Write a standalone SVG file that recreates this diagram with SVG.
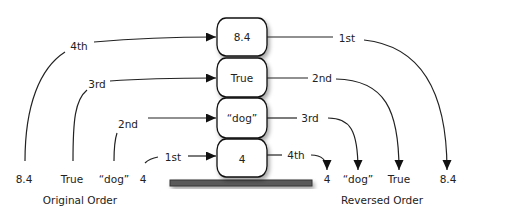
<svg xmlns="http://www.w3.org/2000/svg" width="510" height="221" viewBox="0 0 510 221">
<defs>
<style>
text{font-family:"DejaVu Sans","Liberation Sans",sans-serif;font-size:10.5px;fill:#222;text-anchor:middle}
.c{fill:none;stroke:#222;stroke-width:1.2}
.box{fill:#fff;stroke:#111;stroke-width:1.3}
</style>
<marker id="ah" markerUnits="userSpaceOnUse" markerWidth="12" markerHeight="10" refX="10" refY="4.5" orient="auto">
<path d="M0,0 L10,4.5 L0,9 Z" fill="#111"/>
</marker>
<filter id="sh" x="-20%" y="-20%" width="150%" height="160%">
<feDropShadow dx="2" dy="3" stdDeviation="2" flood-color="#000" flood-opacity="0.35"/>
</filter>
</defs>
<rect width="510" height="221" fill="#fff"/>
<g id="shelf"><rect x="170" y="180" width="142" height="6" fill="#5a5a5a" stroke="#333" stroke-width="1" filter="url(#sh)"/></g>
<g id="box84"><rect class="box" x="217" y="18" width="50" height="38" rx="9" ry="11" filter="url(#sh)"/><text x="242" y="41">8.4</text></g>
<g id="boxTrue"><rect class="box" x="217" y="58" width="50" height="39" rx="9" ry="11" filter="url(#sh)"/><text x="242" y="82">True</text></g>
<g id="boxDog"><rect class="box" x="217" y="98" width="50" height="40" rx="9" ry="11" filter="url(#sh)"/><text x="242" y="122">“dog”</text></g>
<g id="box4"><rect class="box" x="217" y="139" width="50" height="38" rx="9" ry="11" filter="url(#sh)"/><text x="242" y="163">4</text></g>
<g id="left-labels">
<text x="24" y="183">8.4</text>
<text x="72" y="183">True</text>
<text x="114" y="183">“dog”</text>
<text x="143" y="183">4</text>
<text x="80" y="204">Original Order</text>
</g>
<g id="right-labels">
<text x="327" y="183">4</text>
<text x="358" y="183">“dog”</text>
<text x="399" y="183">True</text>
<text x="448" y="183">8.4</text>
<text x="382" y="204">Reversed Order</text>
</g>
<g id="connectors">
<path class="c" d="M25,161 C25,105 40,68 65,52"/>
<text x="79" y="50">4th</text>
<path class="c" d="M94,42 C140,38 180,37 216,37" marker-end="url(#ah)"/>
<path class="c" d="M73,161 C73,120 75,100 87,90"/>
<text x="97" y="88">3rd</text>
<path class="c" d="M110,81 C150,78 180,78 216,78" marker-end="url(#ah)"/>
<path class="c" d="M114,161 C114,146 115,139 117,133"/>
<text x="128" y="128">2nd</text>
<path class="c" d="M148,118 L216,118" marker-end="url(#ah)"/>
<path class="c" d="M145,163 C148,160 152,158 158,157"/>
<text x="173" y="161">1st</text>
<path class="c" d="M188,156 L216,156" marker-end="url(#ah)"/>
<path class="c" d="M267,37 L333,37"/>
<text x="347" y="42">1st</text>
<path class="c" d="M364,40 C420,46 447,90 447,170" marker-end="url(#ah)"/>
<path class="c" d="M267,78 L308,78"/>
<text x="322" y="82">2nd</text>
<path class="c" d="M336,79 C385,80 399,110 399,170" marker-end="url(#ah)"/>
<path class="c" d="M267,118 L297,118"/>
<text x="310" y="122">3rd</text>
<path class="c" d="M328,118 C350,118 358,130 358,170" marker-end="url(#ah)"/>
<path class="c" d="M267,155 L282,155"/>
<text x="296" y="159">4th</text>
<path class="c" d="M311,155 C320,155 327,158 327,170" marker-end="url(#ah)"/>
</g>
</svg>
